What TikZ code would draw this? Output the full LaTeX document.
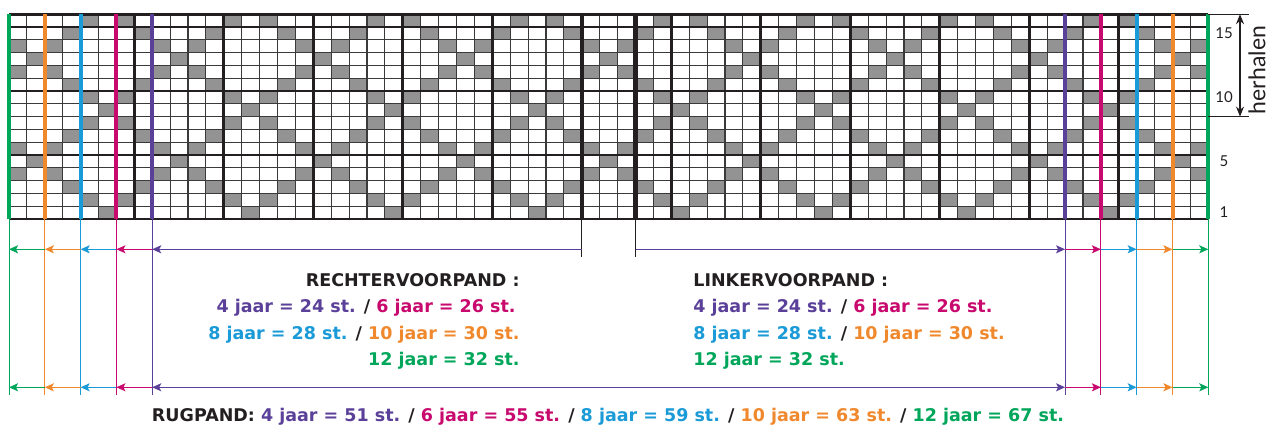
\documentclass[tikz,border=0pt]{standalone}
\usepackage{fontspec}
\newfontfamily\maatfont{DejaVu Sans}
\newfontfamily\labelfont{Lato}
\usetikzlibrary{arrows.meta}
\definecolor{inkcol}{HTML}{231F20}
\definecolor{gridcol}{HTML}{3A3A3A}
\definecolor{stitchcol}{HTML}{939393}
\definecolor{purplecol}{HTML}{5B4099}
\definecolor{magentacol}{HTML}{C8096D}
\definecolor{bluecol}{HTML}{1A9AD6}
\definecolor{orangecol}{HTML}{F0892E}
\definecolor{greencol}{HTML}{00A65A}

\begin{document}
\begin{tikzpicture}[
    x=0.5pt, y=-0.5pt,
    >=Stealth,
    stitch/.style={fill=stitchcol},
    thinrule/.style={gridcol, line width=0.55pt},
    boldrule/.style={inkcol, line width=1.4pt},
    seamrule/.style={inkcol, line width=2.1pt},
    sizeline/.style={line width=2pt},
    sizeleg/.style={line width=0.5pt},
    sizearrow/.style={-{Stealth[length=4.5pt, width=4pt, inset=1pt]}, line width=0.7pt},
    sizearrows/.style={{Stealth[length=4.5pt, width=4pt, inset=1pt]}-{Stealth[length=4.5pt, width=4pt, inset=1pt]}, line width=0.7pt},
    seamtick/.style={inkcol, line width=0.6pt},
    pieceword/.style={font=\maatfont\bfseries\fontsize{8.75}{10}\selectfont, inner sep=0pt, inkcol},
    rownum/.style={font=\labelfont\fontsize{7.5}{9}\selectfont, inner sep=0pt, inkcol},
    replabel/.style={font=\labelfont\fontsize{11.5}{12}\selectfont, inner sep=0pt, inkcol},
    repline/.style={inkcol, line width=0.45pt},
    reparrow/.style={{Stealth[length=5pt, width=4pt]}-{Stealth[length=5pt, width=4pt]}, inkcol, line width=0.6pt},
  ]

  \useasboundingbox (0,0) rectangle (1268,426);

  % Chart: 67 stitches x 16 rows, 8-stitch repeat
  \begin{scope}[xshift=4.5pt, yshift=-109.5pt, x=8.95pt, y=6.4pt]
    \foreach \r/\p/\q in {1/6/6, 2/5/7, 3/4/8, 4/1/3, 5/2/2, 6/1/3, 7/4/8, 8/5/7,
                          9/6/6, 10/5/7, 11/4/8, 12/1/3, 13/2/2, 14/1/3, 15/4/8, 16/5/7}{
      \foreach \s in {0,8,...,64}{
        \pgfmathtruncatemacro\ca{\p+\s}
        \pgfmathtruncatemacro\cb{\q+\s}
        \ifnum\ca<68 \fill[stitch] (\ca-1,\r-1) rectangle (\ca,\r); \fi
        \ifnum\cb<68 \fill[stitch] (\cb-1,\r-1) rectangle (\cb,\r); \fi
      }
    }
    \foreach \b in {0,...,67} \draw[thinrule] (\b,0) -- (\b,16);
    \foreach \r in {0,...,16} \draw[thinrule] (0,\r) -- (67,\r);
    \foreach \b in {2,7,12,17,22,27,37,42,47,52,57,62} \draw[boldrule] (\b,0) -- (\b,16);
    \foreach \r in {0,5,10,15,16} \draw[boldrule] (0,\r) -- (67,\r);
    % Seams of the front pieces
    \foreach \b in {32,35} \draw[seamrule] (\b,0) -- (\b,16);
  \end{scope}

  % Size lines
  \foreach \n/\b/\c in {gl/0/greencol, ol/2/orangecol, bl/4/bluecol, ml/6/magentacol, pl/8/purplecol,
                        pr/59/purplecol, mr/61/magentacol, br/63/bluecol, or/65/orangecol, gr/67/greencol}{
    \coordinate (\n-t) at ({9+17.9*\b},14.2);
    \coordinate (\n-b) at ({9+17.9*\b},219);
    \coordinate (\n-1) at ({9+17.9*\b},249.3);
    \coordinate (\n-2) at ({9+17.9*\b},387.3);
    \coordinate (\n-e) at ({9+17.9*\b},395);
    \draw[sizeline, \c] (\n-t) -- (\n-b);
    \draw[sizeleg, \c] (\n-b) -- (\n-e);
  }

  % Front piece edges
  \coordinate (sl-b) at (581.8,219);
  \coordinate (sl-1) at (581.8,249.3);
  \coordinate (sl-e) at (581.8,256.7);
  \coordinate (sr-b) at (635.5,219);
  \coordinate (sr-1) at (635.5,249.3);
  \coordinate (sr-e) at (635.5,256.7);
  \draw[seamtick] (sl-b) -- (sl-e);
  \draw[seamtick] (sr-b) -- (sr-e);

  % Width arrows
  \foreach \a/\z/\c in {ol/gl/greencol, bl/ol/orangecol, ml/bl/bluecol, pl/ml/magentacol,
                        pr/mr/magentacol, mr/br/bluecol, br/or/orangecol, or/gr/greencol}{
    \draw[sizearrow, \c] (\a-1) -- (\z-1);
    \draw[sizearrow, \c] (\a-2) -- (\z-2);
  }
  \draw[sizearrow, purplecol] (sl-1) -- (pl-1);
  \draw[sizearrow, purplecol] (sr-1) -- (pr-1);
  \draw[sizearrows, purplecol] (pl-2) -- (pr-2);

  % Right front
  \node[pieceword, anchor=base east] (rvp-title) at (520,286.7) {RECHTERVOORPAND :};
  \node[pieceword, anchor=base east] (rvp-a) at (516,313)
    {\textcolor{purplecol}{4 jaar = 24 st.} / \textcolor{magentacol}{6 jaar = 26 st.}};
  \node[pieceword, anchor=base east] (rvp-b) at (520,340)
    {\textcolor{bluecol}{8 jaar = 28 st.} / \textcolor{orangecol}{10 jaar = 30 st.}};
  \node[pieceword, anchor=base east] (rvp-c) at (520,366)
    {\textcolor{greencol}{12 jaar = 32 st.}};

  % Left front
  \node[pieceword, anchor=base west] (lvp-title) at (693,286.7) {LINKERVOORPAND :};
  \node[pieceword, anchor=base west] (lvp-a) at (693,313)
    {\textcolor{purplecol}{4 jaar = 24 st.} / \textcolor{magentacol}{6 jaar = 26 st.}};
  \node[pieceword, anchor=base west] (lvp-b) at (693,340)
    {\textcolor{bluecol}{8 jaar = 28 st.} / \textcolor{orangecol}{10 jaar = 30 st.}};
  \node[pieceword, anchor=base west] (lvp-c) at (693,366)
    {\textcolor{greencol}{12 jaar = 32 st.}};

  % Back
  \node[pieceword, anchor=base] (rug) at (608,421.7)
    {RUGPAND: \textcolor{purplecol}{4 jaar = 51 st.} / \textcolor{magentacol}{6 jaar = 55 st.} /
     \textcolor{bluecol}{8 jaar = 59 st.} / \textcolor{orangecol}{10 jaar = 63 st.} /
     \textcolor{greencol}{12 jaar = 67 st.}};

  % Row numbers
  \node[rownum] (row15) at (1224,33.4) {15};
  \node[rownum] (row10) at (1224,97.4) {10};
  \node[rownum] (row5) at (1224,161.4) {5};
  \node[rownum] (row1) at (1224,212.6) {1};

  % Repeat rows 9-16
  \coordinate (rep-ta) at (1249,14.2);
  \coordinate (rep-bl) at (1208,116.6);
  \coordinate (rep-ba) at (1249,116.6);
  \coordinate (rep-a) at (1240,14.2);
  \coordinate (rep-b) at (1240,116.6);
  \draw[repline] (gr-t) -- (rep-ta);
  \draw[repline] (rep-bl) -- (rep-ba);
  \draw[reparrow] (rep-a) -- (rep-b);
  \node[replabel, rotate=90] (herhalen) at (1257,70) {herhalen};

\end{tikzpicture}
\end{document}
